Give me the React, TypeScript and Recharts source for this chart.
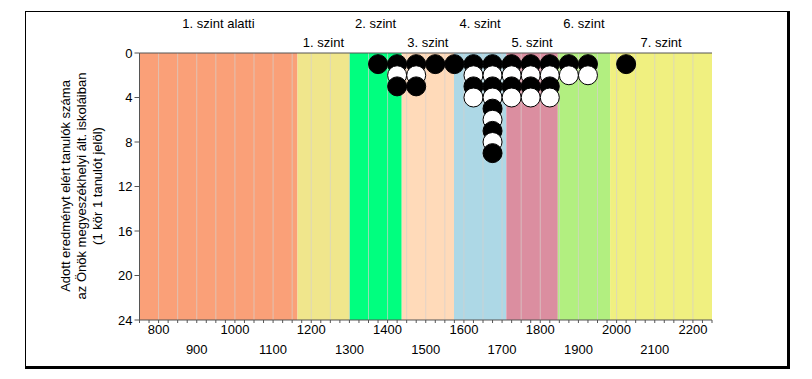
import React from 'react';
import { ComposedChart, XAxis, YAxis, Scatter, ReferenceArea, ReferenceLine } from 'recharts';

const FONT = '"Liberation Sans", Arial, sans-serif';

// Levels (score bands)
const levelNames = ['1. szint alatti', '1. szint', '2. szint', '3. szint', '4. szint', '5. szint', '6. szint', '7. szint'];
const levelBounds = [750, 1164, 1300, 1437, 1574, 1711, 1846, 1983, 2250];
const levelColors = ['#FAA078', '#F0E68C', '#00FF7F', '#FFDAB9', '#ADD8E6', '#DB8EA0', '#B2EF80', '#F0F080'];

// Students per 50-point score bin (bin centre)
const binCenters = [1375, 1425, 1475, 1525, 1575, 1625, 1675, 1725, 1775, 1825, 1875, 1925, 2025];
const studentCounts = [1, 3, 3, 1, 1, 4, 9, 4, 4, 4, 2, 2, 1];

// Axes
const xLabelValues = [800, 900, 1000, 1100, 1200, 1300, 1400, 1500, 1600, 1700, 1800, 1900, 2000, 2100, 2200];
const yTicks = [0, 4, 8, 12, 16, 20, 24];
const gridValues = [800, 850, 900, 950, 1000, 1050, 1100, 1150, 1200, 1250, 1300, 1350, 1400, 1450, 1500, 1550, 1600, 1650, 1700, 1750, 1800, 1850, 1900, 1950, 2000, 2050, 2100, 2150, 2200];
const topTicks = [750, ...gridValues, 2250];
const minorTicks: number[] = [];
for (let v = 750; v <= 2250; v += 25) minorTicks.push(v);

const XTick = (props: any) => {
  const { x, y, payload } = props;
  const v = payload.value;
  if (xLabelValues.indexOf(v) < 0) return null;
  const upper = (v / 100) % 2 === 0;
  return (
    <text x={x} y={y + (upper ? 8.5 : 28.5)} textAnchor="middle" fontSize={13} fill="#000" fontFamily={FONT}>
      {v}
    </text>
  );
};

const Dot = (props: any) => {
  const { cx, cy, payload } = props;
  return (
    <circle cx={cx} cy={cy} r={9.5} fill={payload.black ? '#000' : '#fff'} stroke="#000" strokeWidth={1} />
  );
};

export default function App() {
  const points: { x: number; y: number; black: boolean }[] = [];
  binCenters.forEach((c, i) => {
    for (let k = 1; k <= studentCounts[i]; k++) points.push({ x: c, y: k, black: k % 2 === 1 });
  });

  return (
    <div style={{ position: 'absolute', left: 0, top: 0, width: 812, height: 379, background: '#fff', fontFamily: FONT }}>
      <ComposedChart width={812} height={379} data={points} margin={{ top: 43, right: 100, bottom: 29, left: 79.5 }}>
        <XAxis
          xAxisId="b"
          type="number"
          dataKey="x"
          domain={[750, 2250]}
          ticks={minorTicks}
          interval={0}
          tickSize={3}
          height={30}
          stroke="#555"
          tick={<XTick />}
          allowDataOverflow
        />
        <XAxis
          xAxisId="t"
          orientation="top"
          type="number"
          domain={[750, 2250]}
          ticks={topTicks}
          interval={0}
          tickSize={4}
          height={10}
          stroke="#555"
          tick={false}
          allowDataOverflow
        />
        <YAxis
          yAxisId="l"
          type="number"
          dataKey="y"
          domain={[0, 24]}
          reversed
          ticks={yTicks}
          interval={0}
          tickSize={5}
          width={60}
          stroke="#555"
          tick={{ fill: '#000', fontSize: 13, fontFamily: FONT }}
          allowDataOverflow
        />
        {levelNames.map((name, i) => (
          <ReferenceArea
            key={name}
            xAxisId="b"
            yAxisId="l"
            x1={levelBounds[i]}
            x2={levelBounds[i + 1]}
            fill={levelColors[i]}
            fillOpacity={1}
            stroke="none"
            label={{ value: name, position: 'top', offset: i % 2 === 0 ? 25 : 6.5, fontSize: 13, fill: '#000', fontFamily: FONT }}
          />
        ))}
        {gridValues.map((v) => (
          <ReferenceLine key={v} xAxisId="b" yAxisId="l" x={v} stroke="#D6D0CC" strokeOpacity={0.7} strokeWidth={1} />
        ))}
        <Scatter xAxisId="b" yAxisId="l" data={points} dataKey="y" isAnimationActive={false} shape={<Dot />} />
      </ComposedChart>
      <svg width={812} height={379} style={{ position: 'absolute', left: 0, top: 0, pointerEvents: 'none' }}>
        <g fontFamily={FONT} fontSize={13} fill="#000" textAnchor="middle">
          <text x={65} y={186} dominantBaseline="central" transform="rotate(-90 65 186)">Adott eredményt elért tanulók száma</text>
          <text x={81} y={186} dominantBaseline="central" transform="rotate(-90 81 186)">az Önök megyeszékhelyi ált. iskoláiban</text>
          <text x={97} y={186} dominantBaseline="central" transform="rotate(-90 97 186)">(1 kör 1 tanulót jelöl)</text>
        </g>
      </svg>
      <div
        style={{
          position: 'absolute',
          left: 25,
          top: 11,
          width: 765,
          height: 358,
          boxSizing: 'border-box',
          borderTop: '1px solid #000',
          borderLeft: '1px solid #000',
          borderRight: '3px solid #000',
          borderBottom: '3px solid #000',
          pointerEvents: 'none',
        }}
      />
    </div>
  );
}
